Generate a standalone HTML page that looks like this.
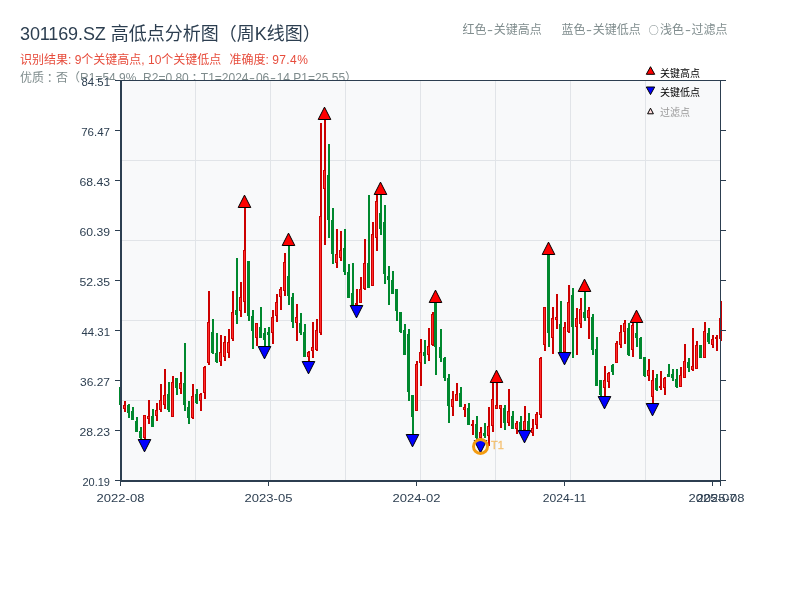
<!DOCTYPE html>
<html lang="zh-CN">
<head>
<meta charset="utf-8">
<title>301169.SZ 高低点分析图（周K线图）</title>
<style>
html,body{margin:0;padding:0;background:#fff;}
body{width:800px;height:600px;position:relative;overflow:hidden;font-family:"Liberation Sans","Noto Sans CJK SC",sans-serif;}
.t{position:absolute;white-space:nowrap;line-height:1;}
#title{left:20px;top:25px;font-size:18px;color:#2c3e50;}
#l2{left:20px;top:54px;font-size:12px;color:#e74c3c;}
#l3{left:20px;top:72px;font-size:12px;color:#7f8c8d;}
.lg{top:24px;font-size:12px;color:#7f8c8d;}
.hy{display:inline-block;width:7.4px;text-align:center;}
.hy i{display:inline-block;font-style:normal;transform:scaleX(1.5);}
.pc{position:relative;left:2.8px;}
.cj{font-family:"Noto Sans CJK SC",sans-serif;}
</style>
</head>
<body>
<div class="t" id="title"><span style="letter-spacing:-0.12px">301169.SZ</span> 高低点分析图（周K线图）</div>
<div class="t" id="l2">识别结果: 9个关键高点, 10个关键低点&nbsp; <span style="margin-left:1.5px">准确度:</span> <span style="letter-spacing:0.4px">97.4%</span></div>
<div class="t" id="l3">优质<span class="pc">：</span>否（R1=54.9%, R2=0.80<span class="pc">；</span>T1=2024<span class="hy"><i>-</i></span>06<span class="hy"><i>-</i></span>14 P1=25.55）</div>
<div class="t lg" style="left:462.4px">红色<span class="hy"><i>-</i></span>关键高点</div>
<div class="t lg" style="left:561.4px">蓝色<span class="hy"><i>-</i></span>关键低点</div>
<div class="t lg" style="left:647.5px"><span class="cj" style="display:inline-block;width:12.6px;font-size:10px;text-align:center;vertical-align:0.5px">○</span>浅色<span class="hy"><i>-</i></span>过滤点</div>
<svg width="800" height="600" viewBox="0 0 800 600" style="position:absolute;left:0;top:0" shape-rendering="crispEdges">
<rect x="80" y="80" width="720" height="520" fill="#ffffff"/>
<rect x="120" y="80" width="600" height="400" fill="#f8f9fa"/>
<g fill="#e1e4e8"><rect x="195" y="80" width="1" height="400"/><rect x="270" y="80" width="1" height="400"/><rect x="345" y="80" width="1" height="400"/><rect x="420" y="80" width="1" height="400"/><rect x="495" y="80" width="1" height="400"/><rect x="570" y="80" width="1" height="400"/><rect x="645" y="80" width="1" height="400"/><rect x="120" y="160" width="600" height="1"/><rect x="120" y="240" width="600" height="1"/><rect x="120" y="320" width="600" height="1"/><rect x="120" y="400" width="600" height="1"/></g>
<g fill="#00882e"><rect x="120" y="387" width="2" height="18"/><rect x="119" y="387" width="3" height="18"/><rect x="128" y="404" width="2" height="14"/><rect x="127" y="405" width="3" height="8"/><rect x="132" y="407" width="2" height="13"/><rect x="131" y="411" width="3" height="9"/><rect x="136" y="417" width="2" height="15"/><rect x="135" y="421" width="3" height="11"/><rect x="140" y="427" width="2" height="12"/><rect x="139" y="431" width="3" height="7"/><rect x="152" y="409" width="2" height="18"/><rect x="151" y="416" width="3" height="11"/><rect x="168" y="382" width="2" height="30"/><rect x="167" y="394" width="3" height="16"/><rect x="176" y="378" width="2" height="17"/><rect x="175" y="378" width="3" height="10"/><rect x="184" y="343" width="2" height="68"/><rect x="183" y="383" width="3" height="22"/><rect x="188" y="401" width="2" height="23"/><rect x="187" y="407" width="3" height="11"/><rect x="196" y="389" width="2" height="15"/><rect x="195" y="394" width="3" height="9"/><rect x="212" y="319" width="2" height="35"/><rect x="211" y="332" width="3" height="21"/><rect x="216" y="333" width="2" height="30"/><rect x="215" y="353" width="3" height="9"/><rect x="236" y="258" width="2" height="66"/><rect x="235" y="310" width="3" height="5"/><rect x="248" y="261" width="2" height="60"/><rect x="247" y="261" width="3" height="55"/><rect x="252" y="310" width="2" height="39"/><rect x="251" y="316" width="3" height="15"/><rect x="260" y="307" width="2" height="31"/><rect x="259" y="327" width="3" height="11"/><rect x="264" y="328" width="2" height="18"/><rect x="263" y="333" width="3" height="7"/><rect x="268" y="327" width="2" height="19"/><rect x="267" y="332" width="3" height="3"/><rect x="288" y="246" width="2" height="59"/><rect x="287" y="276" width="3" height="20"/><rect x="292" y="293" width="2" height="35"/><rect x="291" y="297" width="3" height="25"/><rect x="300" y="313" width="2" height="22"/><rect x="299" y="323" width="3" height="10"/><rect x="304" y="324" width="2" height="33"/><rect x="303" y="332" width="3" height="25"/><rect x="328" y="144" width="2" height="94"/><rect x="327" y="175" width="3" height="45"/><rect x="332" y="208" width="2" height="56"/><rect x="331" y="220" width="3" height="34"/><rect x="344" y="229" width="2" height="46"/><rect x="343" y="248" width="3" height="24"/><rect x="348" y="264" width="2" height="34"/><rect x="347" y="272" width="3" height="26"/><rect x="352" y="263" width="2" height="42"/><rect x="351" y="293" width="3" height="12"/><rect x="368" y="195" width="2" height="93"/><rect x="367" y="263" width="3" height="25"/><rect x="380" y="195" width="2" height="40"/><rect x="379" y="213" width="3" height="16"/><rect x="384" y="205" width="2" height="79"/><rect x="383" y="222" width="3" height="52"/><rect x="388" y="266" width="2" height="39"/><rect x="387" y="276" width="3" height="4"/><rect x="392" y="271" width="2" height="23"/><rect x="391" y="280" width="3" height="14"/><rect x="396" y="289" width="2" height="32"/><rect x="395" y="289" width="3" height="22"/><rect x="400" y="312" width="2" height="21"/><rect x="399" y="312" width="3" height="20"/><rect x="404" y="324" width="2" height="31"/><rect x="403" y="330" width="3" height="25"/><rect x="408" y="329" width="2" height="72"/><rect x="407" y="334" width="3" height="58"/><rect x="412" y="395" width="2" height="39"/><rect x="411" y="395" width="3" height="22"/><rect x="424" y="340" width="2" height="24"/><rect x="423" y="352" width="3" height="4"/><rect x="435" y="303" width="2" height="72"/><rect x="434" y="303" width="3" height="44"/><rect x="440" y="329" width="2" height="33"/><rect x="439" y="347" width="3" height="11"/><rect x="444" y="357" width="2" height="24"/><rect x="443" y="358" width="3" height="20"/><rect x="448" y="374" width="2" height="49"/><rect x="447" y="378" width="3" height="28"/><rect x="460" y="387" width="2" height="20"/><rect x="459" y="393" width="3" height="14"/><rect x="468" y="403" width="2" height="22"/><rect x="467" y="408" width="3" height="17"/><rect x="476" y="416" width="2" height="24"/><rect x="475" y="424" width="3" height="14"/><rect x="484" y="423" width="2" height="15"/><rect x="483" y="433" width="3" height="3"/><rect x="504" y="405" width="2" height="25"/><rect x="503" y="408" width="3" height="15"/><rect x="512" y="411" width="2" height="18"/><rect x="511" y="416" width="3" height="13"/><rect x="520" y="416" width="2" height="14"/><rect x="519" y="422" width="3" height="8"/><rect x="528" y="413" width="2" height="17"/><rect x="527" y="421" width="3" height="9"/><rect x="548" y="255" width="2" height="92"/><rect x="547" y="255" width="3" height="78"/><rect x="560" y="301" width="2" height="51"/><rect x="559" y="324" width="3" height="28"/><rect x="572" y="288" width="2" height="70"/><rect x="571" y="295" width="3" height="32"/><rect x="584" y="292" width="2" height="29"/><rect x="583" y="312" width="3" height="6"/><rect x="592" y="314" width="2" height="41"/><rect x="591" y="317" width="3" height="33"/><rect x="596" y="337" width="2" height="49"/><rect x="595" y="349" width="3" height="37"/><rect x="600" y="380" width="2" height="16"/><rect x="599" y="380" width="3" height="15"/><rect x="612" y="364" width="2" height="11"/><rect x="611" y="365" width="3" height="7"/><rect x="628" y="323" width="2" height="33"/><rect x="627" y="328" width="3" height="27"/><rect x="636" y="323" width="2" height="24"/><rect x="635" y="333" width="3" height="5"/><rect x="640" y="337" width="2" height="22"/><rect x="639" y="338" width="3" height="21"/><rect x="644" y="357" width="2" height="20"/><rect x="643" y="357" width="3" height="19"/><rect x="656" y="374" width="2" height="17"/><rect x="655" y="378" width="3" height="12"/><rect x="668" y="364" width="2" height="13"/><rect x="667" y="374" width="3" height="3"/><rect x="672" y="369" width="2" height="12"/><rect x="671" y="374" width="3" height="4"/><rect x="676" y="369" width="2" height="19"/><rect x="675" y="379" width="3" height="8"/><rect x="688" y="358" width="2" height="14"/><rect x="687" y="362" width="3" height="6"/><rect x="700" y="345" width="2" height="13"/><rect x="699" y="345" width="3" height="13"/><rect x="708" y="328" width="2" height="16"/><rect x="707" y="333" width="3" height="9"/></g>
<g fill="#cc0000"><rect x="124" y="401" width="2" height="11"/><rect x="123" y="405" width="3" height="4"/><rect x="144" y="415" width="2" height="24"/><rect x="143" y="415" width="3" height="23"/><rect x="148" y="400" width="2" height="24"/><rect x="147" y="416" width="3" height="3"/><rect x="156" y="403" width="2" height="18"/><rect x="155" y="410" width="3" height="6"/><rect x="160" y="384" width="2" height="28"/><rect x="159" y="400" width="3" height="10"/><rect x="164" y="369" width="2" height="40"/><rect x="163" y="395" width="3" height="10"/><rect x="172" y="376" width="2" height="41"/><rect x="171" y="382" width="3" height="35"/><rect x="180" y="372" width="2" height="22"/><rect x="179" y="383" width="3" height="6"/><rect x="192" y="384" width="2" height="35"/><rect x="191" y="396" width="3" height="22"/><rect x="200" y="393" width="2" height="18"/><rect x="199" y="394" width="3" height="7"/><rect x="204" y="366" width="2" height="33"/><rect x="203" y="367" width="3" height="26"/><rect x="208" y="291" width="2" height="74"/><rect x="207" y="322" width="3" height="41"/><rect x="220" y="335" width="2" height="31"/><rect x="219" y="352" width="3" height="10"/><rect x="224" y="336" width="2" height="25"/><rect x="223" y="342" width="3" height="15"/><rect x="228" y="329" width="2" height="29"/><rect x="227" y="342" width="3" height="11"/><rect x="232" y="291" width="2" height="50"/><rect x="231" y="312" width="3" height="27"/><rect x="240" y="282" width="2" height="35"/><rect x="239" y="297" width="3" height="14"/><rect x="244" y="208" width="2" height="105"/><rect x="243" y="250" width="3" height="52"/><rect x="256" y="323" width="2" height="23"/><rect x="255" y="323" width="3" height="15"/><rect x="272" y="310" width="2" height="34"/><rect x="271" y="317" width="3" height="16"/><rect x="276" y="294" width="2" height="28"/><rect x="275" y="302" width="3" height="14"/><rect x="280" y="287" width="2" height="23"/><rect x="279" y="289" width="3" height="8"/><rect x="284" y="253" width="2" height="43"/><rect x="283" y="262" width="3" height="29"/><rect x="296" y="304" width="2" height="37"/><rect x="295" y="317" width="3" height="6"/><rect x="308" y="351" width="2" height="10"/><rect x="307" y="352" width="3" height="5"/><rect x="312" y="322" width="2" height="36"/><rect x="311" y="347" width="3" height="4"/><rect x="316" y="319" width="2" height="32"/><rect x="315" y="330" width="3" height="20"/><rect x="320" y="123" width="2" height="212"/><rect x="319" y="216" width="3" height="117"/><rect x="324" y="120" width="2" height="125"/><rect x="323" y="170" width="3" height="19"/><rect x="336" y="229" width="2" height="39"/><rect x="335" y="254" width="3" height="9"/><rect x="340" y="231" width="2" height="30"/><rect x="339" y="250" width="3" height="8"/><rect x="356" y="289" width="2" height="16"/><rect x="355" y="303" width="3" height="2"/><rect x="360" y="277" width="2" height="26"/><rect x="359" y="289" width="3" height="14"/><rect x="364" y="239" width="2" height="51"/><rect x="363" y="263" width="3" height="26"/><rect x="372" y="222" width="2" height="64"/><rect x="371" y="234" width="3" height="52"/><rect x="376" y="195" width="2" height="56"/><rect x="375" y="201" width="3" height="37"/><rect x="416" y="361" width="2" height="50"/><rect x="415" y="364" width="3" height="47"/><rect x="420" y="339" width="2" height="47"/><rect x="419" y="352" width="3" height="11"/><rect x="428" y="328" width="2" height="33"/><rect x="427" y="346" width="3" height="9"/><rect x="432" y="312" width="2" height="34"/><rect x="431" y="314" width="3" height="31"/><rect x="452" y="391" width="2" height="25"/><rect x="451" y="399" width="3" height="8"/><rect x="456" y="383" width="2" height="18"/><rect x="455" y="394" width="3" height="7"/><rect x="464" y="404" width="2" height="13"/><rect x="463" y="407" width="3" height="3"/><rect x="472" y="420" width="2" height="15"/><rect x="471" y="424" width="3" height="2"/><rect x="480" y="427" width="2" height="13"/><rect x="479" y="432" width="3" height="6"/><rect x="488" y="407" width="2" height="39"/><rect x="487" y="426" width="3" height="10"/><rect x="492" y="383" width="2" height="49"/><rect x="491" y="399" width="3" height="27"/><rect x="496" y="383" width="2" height="26"/><rect x="495" y="405" width="3" height="4"/><rect x="500" y="405" width="2" height="23"/><rect x="499" y="405" width="3" height="4"/><rect x="508" y="389" width="2" height="37"/><rect x="507" y="411" width="3" height="12"/><rect x="516" y="421" width="2" height="13"/><rect x="515" y="423" width="3" height="6"/><rect x="524" y="406" width="2" height="24"/><rect x="523" y="421" width="3" height="9"/><rect x="532" y="419" width="2" height="17"/><rect x="531" y="428" width="3" height="5"/><rect x="536" y="412" width="2" height="17"/><rect x="535" y="414" width="3" height="11"/><rect x="540" y="357" width="2" height="61"/><rect x="539" y="358" width="3" height="57"/><rect x="544" y="307" width="2" height="44"/><rect x="543" y="307" width="3" height="38"/><rect x="552" y="307" width="2" height="47"/><rect x="551" y="318" width="3" height="20"/><rect x="556" y="294" width="2" height="35"/><rect x="555" y="317" width="3" height="3"/><rect x="564" y="322" width="2" height="30"/><rect x="563" y="327" width="3" height="25"/><rect x="568" y="285" width="2" height="48"/><rect x="567" y="302" width="3" height="30"/><rect x="576" y="308" width="2" height="47"/><rect x="575" y="318" width="3" height="9"/><rect x="580" y="298" width="2" height="30"/><rect x="579" y="309" width="3" height="15"/><rect x="588" y="307" width="2" height="32"/><rect x="587" y="310" width="3" height="8"/><rect x="604" y="366" width="2" height="30"/><rect x="603" y="380" width="3" height="8"/><rect x="608" y="372" width="2" height="16"/><rect x="607" y="373" width="3" height="9"/><rect x="616" y="341" width="2" height="22"/><rect x="615" y="343" width="3" height="20"/><rect x="620" y="325" width="2" height="23"/><rect x="619" y="332" width="3" height="13"/><rect x="624" y="320" width="2" height="24"/><rect x="623" y="323" width="3" height="9"/><rect x="632" y="323" width="2" height="34"/><rect x="631" y="325" width="3" height="25"/><rect x="648" y="359" width="2" height="22"/><rect x="647" y="370" width="3" height="6"/><rect x="652" y="370" width="2" height="33"/><rect x="651" y="380" width="3" height="17"/><rect x="660" y="371" width="2" height="19"/><rect x="659" y="386" width="3" height="2"/><rect x="664" y="377" width="2" height="18"/><rect x="663" y="378" width="3" height="10"/><rect x="680" y="367" width="2" height="20"/><rect x="679" y="375" width="3" height="12"/><rect x="684" y="344" width="2" height="34"/><rect x="683" y="361" width="3" height="17"/><rect x="692" y="328" width="2" height="43"/><rect x="691" y="366" width="3" height="4"/><rect x="696" y="341" width="2" height="28"/><rect x="695" y="345" width="3" height="24"/><rect x="704" y="322" width="2" height="36"/><rect x="703" y="331" width="3" height="27"/><rect x="712" y="335" width="2" height="13"/><rect x="711" y="339" width="3" height="6"/><rect x="716" y="335" width="2" height="16"/><rect x="715" y="337" width="3" height="2"/><rect x="720" y="301" width="2" height="40"/><rect x="719" y="318" width="3" height="21"/></g>
<g fill="#ff2c2c"><rect x="124" y="406" width="1" height="2"/><rect x="144" y="416" width="1" height="21"/><rect x="148" y="417" width="1" height="1"/><rect x="156" y="411" width="1" height="4"/><rect x="160" y="401" width="1" height="8"/><rect x="164" y="396" width="1" height="8"/><rect x="172" y="383" width="1" height="33"/><rect x="180" y="384" width="1" height="4"/><rect x="192" y="397" width="1" height="20"/><rect x="200" y="395" width="1" height="5"/><rect x="204" y="368" width="1" height="24"/><rect x="208" y="323" width="1" height="39"/><rect x="220" y="353" width="1" height="8"/><rect x="224" y="343" width="1" height="13"/><rect x="228" y="343" width="1" height="9"/><rect x="232" y="313" width="1" height="25"/><rect x="240" y="298" width="1" height="12"/><rect x="244" y="251" width="1" height="50"/><rect x="256" y="324" width="1" height="13"/><rect x="272" y="318" width="1" height="14"/><rect x="276" y="303" width="1" height="12"/><rect x="280" y="290" width="1" height="6"/><rect x="284" y="263" width="1" height="27"/><rect x="296" y="318" width="1" height="4"/><rect x="308" y="353" width="1" height="3"/><rect x="312" y="348" width="1" height="2"/><rect x="316" y="331" width="1" height="18"/><rect x="320" y="217" width="1" height="115"/><rect x="324" y="171" width="1" height="17"/><rect x="336" y="255" width="1" height="7"/><rect x="340" y="251" width="1" height="6"/><rect x="360" y="290" width="1" height="12"/><rect x="364" y="264" width="1" height="24"/><rect x="372" y="235" width="1" height="50"/><rect x="376" y="202" width="1" height="35"/><rect x="416" y="365" width="1" height="45"/><rect x="420" y="353" width="1" height="9"/><rect x="428" y="347" width="1" height="7"/><rect x="432" y="315" width="1" height="29"/><rect x="452" y="400" width="1" height="6"/><rect x="456" y="395" width="1" height="5"/><rect x="464" y="408" width="1" height="1"/><rect x="480" y="433" width="1" height="4"/><rect x="488" y="427" width="1" height="8"/><rect x="492" y="400" width="1" height="25"/><rect x="496" y="406" width="1" height="2"/><rect x="500" y="406" width="1" height="2"/><rect x="508" y="412" width="1" height="10"/><rect x="516" y="424" width="1" height="4"/><rect x="524" y="422" width="1" height="7"/><rect x="532" y="429" width="1" height="3"/><rect x="536" y="415" width="1" height="9"/><rect x="540" y="359" width="1" height="55"/><rect x="544" y="308" width="1" height="36"/><rect x="552" y="319" width="1" height="18"/><rect x="556" y="318" width="1" height="1"/><rect x="564" y="328" width="1" height="23"/><rect x="568" y="303" width="1" height="28"/><rect x="576" y="319" width="1" height="7"/><rect x="580" y="310" width="1" height="13"/><rect x="588" y="311" width="1" height="6"/><rect x="604" y="381" width="1" height="6"/><rect x="608" y="374" width="1" height="7"/><rect x="616" y="344" width="1" height="18"/><rect x="620" y="333" width="1" height="11"/><rect x="624" y="324" width="1" height="7"/><rect x="632" y="326" width="1" height="23"/><rect x="648" y="371" width="1" height="4"/><rect x="652" y="381" width="1" height="15"/><rect x="664" y="379" width="1" height="8"/><rect x="680" y="376" width="1" height="10"/><rect x="684" y="362" width="1" height="15"/><rect x="692" y="367" width="1" height="2"/><rect x="696" y="346" width="1" height="22"/><rect x="704" y="332" width="1" height="25"/><rect x="712" y="340" width="1" height="4"/><rect x="720" y="319" width="1" height="19"/></g>
<g fill="#2c3e50">
<rect x="120" y="80" width="2" height="402"/>
<rect x="120" y="480" width="601" height="2"/>
<rect x="120" y="80" width="606" height="1"/>
<rect x="720" y="80" width="1" height="406"/>
<rect x="115" y="80" width="5" height="1"/>
<rect x="720" y="80" width="6" height="1"/>
<rect x="115" y="130" width="5" height="1"/>
<rect x="720" y="130" width="6" height="1"/>
<rect x="115" y="180" width="5" height="1"/>
<rect x="720" y="180" width="6" height="1"/>
<rect x="115" y="230" width="5" height="1"/>
<rect x="720" y="230" width="6" height="1"/>
<rect x="115" y="280" width="5" height="1"/>
<rect x="720" y="280" width="6" height="1"/>
<rect x="115" y="330" width="5" height="1"/>
<rect x="720" y="330" width="6" height="1"/>
<rect x="115" y="380" width="5" height="1"/>
<rect x="720" y="380" width="6" height="1"/>
<rect x="115" y="430" width="5" height="1"/>
<rect x="720" y="430" width="6" height="1"/>
<rect x="115" y="480" width="5" height="1"/>
<rect x="720" y="480" width="6" height="1"/>
<rect x="120" y="480" width="1" height="6"/>
<rect x="268" y="480" width="1" height="6"/>
<rect x="416" y="480" width="1" height="6"/>
<rect x="564" y="480" width="1" height="6"/>
<rect x="712" y="480" width="1" height="6"/>
<rect x="720" y="480" width="1" height="6"/>
</g>
<g shape-rendering="geometricPrecision">
<polygon points="238.2,207.5 250.8,207.5 244.5,195.1" fill="#ff0000" stroke="#000" stroke-width="1"/>
<polygon points="282.2,245.5 294.8,245.5 288.5,233.1" fill="#ff0000" stroke="#000" stroke-width="1"/>
<polygon points="318.2,119.5 330.8,119.5 324.5,107.1" fill="#ff0000" stroke="#000" stroke-width="1"/>
<polygon points="374.2,194.5 386.8,194.5 380.5,182.1" fill="#ff0000" stroke="#000" stroke-width="1"/>
<polygon points="429.2,302.5 441.8,302.5 435.5,290.1" fill="#ff0000" stroke="#000" stroke-width="1"/>
<polygon points="490.2,382.5 502.8,382.5 496.5,370.1" fill="#ff0000" stroke="#000" stroke-width="1"/>
<polygon points="542.2,254.5 554.8,254.5 548.5,242.1" fill="#ff0000" stroke="#000" stroke-width="1"/>
<polygon points="578.2,291.5 590.8,291.5 584.5,279.1" fill="#ff0000" stroke="#000" stroke-width="1"/>
<polygon points="630.2,322.5 642.8,322.5 636.5,310.1" fill="#ff0000" stroke="#000" stroke-width="1"/>
<polygon points="138.2,439.5 150.8,439.5 144.5,451.9" fill="#0000ff" stroke="#000" stroke-width="1"/>
<polygon points="258.2,346.5 270.8,346.5 264.5,358.9" fill="#0000ff" stroke="#000" stroke-width="1"/>
<polygon points="302.2,361.5 314.8,361.5 308.5,373.9" fill="#0000ff" stroke="#000" stroke-width="1"/>
<polygon points="350.2,305.5 362.8,305.5 356.5,317.9" fill="#0000ff" stroke="#000" stroke-width="1"/>
<polygon points="406.2,434.5 418.8,434.5 412.5,446.9" fill="#0000ff" stroke="#000" stroke-width="1"/>
<polygon points="474.2,440.5 486.8,440.5 480.5,452.9" fill="#0000ff" stroke="#000" stroke-width="1"/>
<polygon points="518.2,430.5 530.8,430.5 524.5,442.9" fill="#0000ff" stroke="#000" stroke-width="1"/>
<polygon points="558.2,352.5 570.8,352.5 564.5,364.9" fill="#0000ff" stroke="#000" stroke-width="1"/>
<polygon points="598.2,396.5 610.8,396.5 604.5,408.9" fill="#0000ff" stroke="#000" stroke-width="1"/>
<polygon points="646.2,403.5 658.8,403.5 652.5,415.9" fill="#0000ff" stroke="#000" stroke-width="1"/>
<circle cx="480.5" cy="446.4" r="7" fill="none" stroke="#f39c12" stroke-width="3"/>
<text x="491" y="448.7" font-size="11" fill="#f39c12" fill-opacity="0.5" stroke="#f39c12" stroke-opacity="0.5" stroke-width="0.35" font-family="Liberation Sans, sans-serif">T1</text>
<polygon points="646.3,74.3 654.7,74.3 650.5,66.7" fill="#ff0000" stroke="#000" stroke-width="1"/>
<polygon points="646.3,87 654.7,87 650.5,94.6" fill="#0000ff" stroke="#000" stroke-width="1"/>
<polygon points="647.6,113.8 653.4,113.8 650.5,108.2" fill="#ffdcdc" stroke="#000" stroke-width="1"/>
</g>
<g font-family="Liberation Sans, Noto Sans CJK SC, sans-serif" font-size="10">
<text x="660" y="76.5" fill="#000">关键高点</text>
<text x="660" y="96" fill="#000">关键低点</text>
<text x="660" y="116" fill="#999">过滤点</text>
</g>
<g font-family="Liberation Sans, sans-serif" font-size="11" fill="#2c3e50">
<text x="110" y="86" text-anchor="end" textLength="28.5" lengthAdjust="spacingAndGlyphs">84.51</text>
<text x="110" y="136" text-anchor="end" textLength="28.8" lengthAdjust="spacingAndGlyphs">76.47</text>
<text x="110" y="186" text-anchor="end" textLength="30.6" lengthAdjust="spacingAndGlyphs">68.43</text>
<text x="110" y="236" text-anchor="end" textLength="30.6" lengthAdjust="spacingAndGlyphs">60.39</text>
<text x="110" y="286" text-anchor="end" textLength="30.6" lengthAdjust="spacingAndGlyphs">52.35</text>
<text x="110" y="336" text-anchor="end" textLength="28.5" lengthAdjust="spacingAndGlyphs">44.31</text>
<text x="110" y="386" text-anchor="end" textLength="30" lengthAdjust="spacingAndGlyphs">36.27</text>
<text x="110" y="436" text-anchor="end" textLength="30.6" lengthAdjust="spacingAndGlyphs">28.23</text>
<text x="110" y="486" text-anchor="end" textLength="27.6" lengthAdjust="spacingAndGlyphs">20.19</text>
<text x="120.5" y="502" text-anchor="middle" textLength="47.8" lengthAdjust="spacingAndGlyphs">2022-08</text>
<text x="268.5" y="502" text-anchor="middle" textLength="47.8" lengthAdjust="spacingAndGlyphs">2023-05</text>
<text x="416.5" y="502" text-anchor="middle" textLength="47.8" lengthAdjust="spacingAndGlyphs">2024-02</text>
<text x="564.5" y="502" text-anchor="middle" textLength="43.6" lengthAdjust="spacingAndGlyphs">2024-11</text>
<text x="712.5" y="502" text-anchor="middle" textLength="47.8" lengthAdjust="spacingAndGlyphs">2025-07</text>
<text x="720.5" y="502" text-anchor="middle" textLength="47.8" lengthAdjust="spacingAndGlyphs">2025-08</text>
</g>
</svg>
</body>
</html>
